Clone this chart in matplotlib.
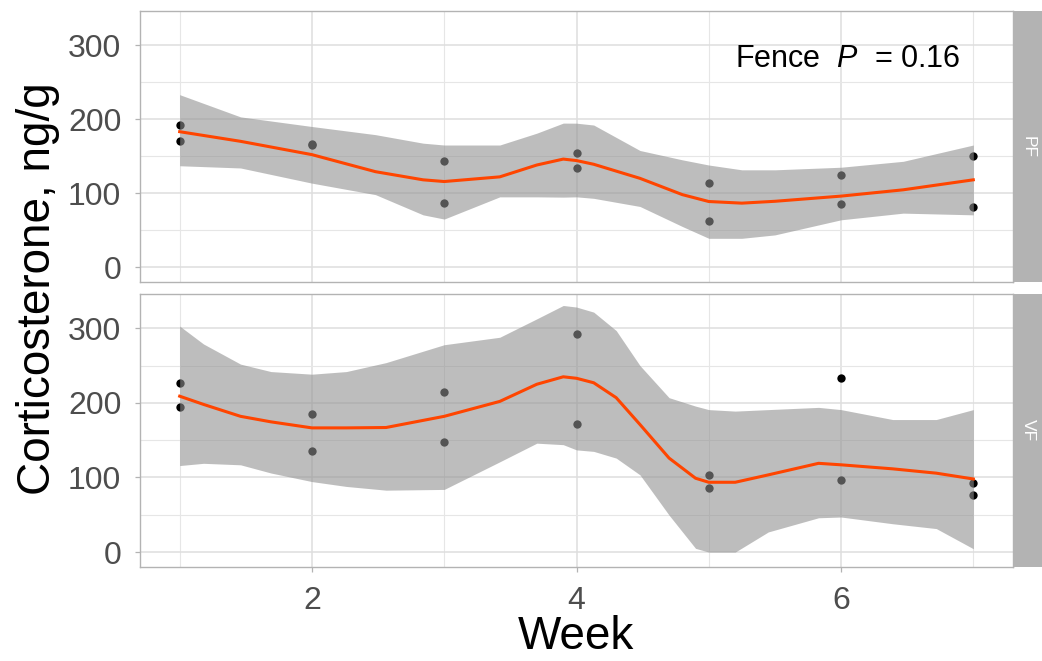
import matplotlib
matplotlib.use('Agg')
import matplotlib.pyplot as plt
from matplotlib.ticker import FixedLocator

plt.rcParams['font.family'] = 'Liberation Sans'
plt.rcParams['mathtext.fontset'] = 'custom'
plt.rcParams['mathtext.rm'] = 'Liberation Sans'
plt.rcParams['mathtext.it'] = 'Liberation Sans:italic'

# ===== DATA =====
weeks = [1, 1, 2, 2, 3, 3, 4, 4, 5, 5, 6, 6, 7, 7]
pf_values = [192, 171, 167, 165, 143, 87, 154, 134, 114, 63, 125, 85, 150, 81]
vf_values = [227, 194, 185, 136, 214, 148, 293, 172, 104, 86, 233, 97, 92, 77]

# loess fit
pf_x = [1, 1.46, 2, 2.48, 2.84, 3, 3.42, 3.7, 3.9, 4, 4.13, 4.48, 4.8, 5, 5.25, 5.5, 6, 6.47, 7]
pf_fit = [183, 170, 152, 129, 118, 115.7, 122, 138, 146, 144, 139, 120, 98, 88.7, 86.5, 89, 96, 104.5, 118]
pf_upper = [233, 203, 190, 179, 167.5, 165, 165, 181, 194.6, 194.5, 192, 157.6, 145, 138, 131.5, 131.5, 135, 143, 165]
pf_lower = [137, 134, 113.5, 98, 70.7, 65, 95, 95, 94.6, 95, 93, 82, 55, 39, 39, 43.6, 64, 73, 70.7]

vf_x = [1, 1.18, 1.46, 1.69, 2, 2.26, 2.56, 3, 3.42, 3.7, 3.9, 4, 4.13, 4.3, 4.48, 4.7, 4.9,
        5, 5.2, 5.45, 5.83, 6, 6.39, 6.72, 7]
vf_fit = [209, 198, 182, 174.6, 166.5, 166.5, 167, 182, 202, 225, 235, 233, 227, 207, 171, 126, 99,
          93.6, 93.6, 103.5, 119, 117, 111.6, 105.8, 98]
vf_upper = [303, 279, 252, 242, 238.5, 242, 254, 278, 288, 312.7, 330.6, 328.5, 321.7, 297, 250, 207, 195.7,
            191, 189, 191, 194, 191, 177.7, 177.7, 191]
vf_lower = [116, 119, 117, 106, 94.5, 88, 83, 84, 121, 146, 144, 137, 135, 126, 103.5, 49.5, 5,
            0, 0, 27, 46, 47, 38, 31.5, 4.5]

panels = [
    ('PF', pf_values, pf_x, pf_fit, pf_upper, pf_lower),
    ('VF', vf_values, vf_x, vf_fit, vf_upper, vf_lower),
]

W, H = 1042, 661
fig = plt.figure(figsize=(W / 100, H / 100), dpi=100)

left, right = 140 / W, 1013 / W
rows = [(11, 282), (294, 567)]

for i, (name, vals, sx, fit, up, lo) in enumerate(panels):
    top_px, bot_px = rows[i]
    ax = fig.add_axes([left, 1 - bot_px / H, right - left, (bot_px - top_px) / H])
    ax.scatter(weeks, vals, s=36, color='black', zorder=2, linewidths=0)
    ax.fill_between(sx, lo, up, color='#909090', alpha=0.59, linewidth=0, zorder=3)
    ax.plot(sx, fit, color='#FF4500', linewidth=2.2, zorder=4)

    ax.set_xlim(0.7, 7.3)
    ax.set_ylim(-20, 346)
    ax.xaxis.set_major_locator(FixedLocator([2, 4, 6]))
    ax.xaxis.set_minor_locator(FixedLocator([1, 3, 5, 7]))
    ax.yaxis.set_major_locator(FixedLocator([0, 100, 200, 300]))
    ax.yaxis.set_minor_locator(FixedLocator([50, 150, 250]))
    ax.grid(True, which='major', color='#DEDEDE', linewidth=1.1)
    ax.grid(True, which='minor', color='#E6E6E6', linewidth=0.8)
    ax.set_axisbelow(True)
    for sp in ax.spines.values():
        sp.set_color('#B3B3B3')
        sp.set_linewidth(1.0)
    ax.tick_params(which='major', color='#B3B3B3', length=3.5, width=0.9,
                   labelsize=23, labelcolor='#4D4D4D', pad=10)
    ax.tick_params(which='minor', length=0)
    if i == 0:
        ax.tick_params(axis='x', which='both', bottom=False, labelbottom=False)

    # facet strip on the right
    sax = fig.add_axes([1014 / W, 1 - bot_px / H, 28 / W, (bot_px - top_px) / H])
    sax.set_facecolor('#B3B3B3')
    sax.set_xticks([])
    sax.set_yticks([])
    for sp in sax.spines.values():
        sp.set_visible(False)
    sax.text(0.5, 0.5, name, rotation=-90, ha='center', va='center',
             color='white', fontsize=12.5, transform=sax.transAxes)

    if i == 0:
        ax.text(6.9, 281, r'Fence  $\mathit{P}$  = 0.16', ha='right', va='center',
                fontsize=22, color='black')

fig.text(38 / W, 1 - 289 / H, 'Corticosterone, ng/g', rotation=90,
         ha='center', va='center', fontsize=33)
fig.text(576 / W, 1 - 637 / H, 'Week', ha='center', va='center', fontsize=33)

fig.savefig('out.png', dpi=100)
plt.close(fig)
